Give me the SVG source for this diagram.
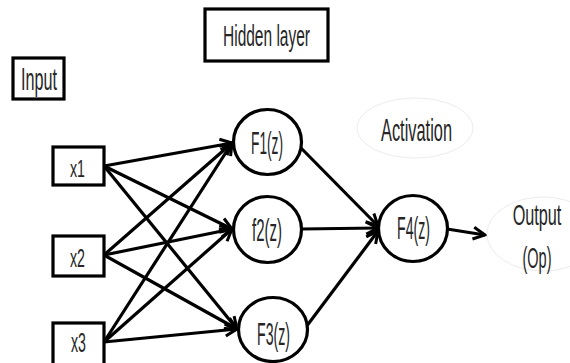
<svg xmlns="http://www.w3.org/2000/svg" width="570" height="363" viewBox="0 0 570 363">
  <style>
    .box { fill: #fff; stroke: #000; stroke-width: 3.2; }
    .unit { fill: #fff; stroke: #000; stroke-width: 3.2; }
    .halo { fill: none; stroke: #ececec; stroke-width: 1; }
    .lbl { font-family: "Liberation Sans", Arial, sans-serif; fill: #262626; }
    .edge { fill: none; stroke: #000; stroke-width: 3.2; marker-end: url(#arrow); }
  </style>
  <defs>
    <marker id="arrow" viewBox="0 0 14 14" refX="12" refY="7" markerWidth="15" markerHeight="15" markerUnits="userSpaceOnUse" orient="auto">
      <path d="M1,1.5 L12,7 L1,12.5" fill="none" stroke="#000" stroke-width="2.8" stroke-linejoin="miter"/>
    </marker>
  </defs>
  <rect width="570" height="363" fill="#fff"/>

  <!-- connectors -->
  <g id="connectors">
    <line class="edge" x1="104" y1="166" x2="232" y2="143"/>
    <line class="edge" x1="104" y1="166" x2="232" y2="229"/>
    <line class="edge" x1="104" y1="166" x2="237" y2="329"/>
    <line class="edge" x1="104" y1="255" x2="232" y2="143"/>
    <line class="edge" x1="104" y1="255" x2="232" y2="229"/>
    <line class="edge" x1="104" y1="255" x2="237" y2="329"/>
    <line class="edge" x1="104" y1="342" x2="232" y2="143"/>
    <line class="edge" x1="104" y1="342" x2="232" y2="229"/>
    <line class="edge" x1="104" y1="342" x2="237" y2="329"/>
    <line class="edge" x1="300" y1="147" x2="378" y2="226"/>
    <line class="edge" x1="301" y1="229" x2="378" y2="228"/>
    <line class="edge" x1="306" y1="327" x2="378" y2="231"/>
    <line class="edge" x1="447" y1="229" x2="485" y2="235"/>
  </g>

  <!-- layer captions -->
  <g id="input-caption">
    <rect class="box" x="13" y="58" width="51" height="41"/>
    <text class="lbl" x="21" y="90" font-size="31" textLength="36" lengthAdjust="spacingAndGlyphs">Input</text>
  </g>
  <g id="hidden-caption">
    <rect class="box" x="205" y="9" width="123" height="52"/>
    <text class="lbl" x="223" y="46" font-size="30" textLength="87" lengthAdjust="spacingAndGlyphs">Hidden layer</text>
  </g>
  <g id="activation-caption">
    <ellipse class="halo" cx="415" cy="128" rx="58" ry="30"/>
    <text class="lbl" x="381" y="141" font-size="32" textLength="71" lengthAdjust="spacingAndGlyphs">Activation</text>
  </g>
  <g id="output">
    <ellipse class="halo" cx="543" cy="234" rx="56" ry="37"/>
    <!-- condensed by a horizontal scale so the label stays inside the canvas -->
    <text class="lbl" font-size="29" text-anchor="middle" transform="translate(537,225) scale(0.56,1)">Output</text>
    <text class="lbl" font-size="29" text-anchor="middle" transform="translate(537,268) scale(0.5,1)">(Op)</text>
  </g>

  <!-- inputs -->
  <g id="x1">
    <rect class="box" x="53" y="147" width="51" height="38"/>
    <text class="lbl" x="70" y="177" font-size="24" textLength="15" lengthAdjust="spacingAndGlyphs">x1</text>
  </g>
  <g id="x2">
    <rect class="box" x="53" y="236" width="51" height="40"/>
    <text class="lbl" x="70" y="267" font-size="25" textLength="15" lengthAdjust="spacingAndGlyphs">x2</text>
  </g>
  <g id="x3">
    <rect class="box" x="53" y="323" width="51" height="46"/>
    <text class="lbl" x="71" y="352" font-size="27" textLength="15" lengthAdjust="spacingAndGlyphs">x3</text>
  </g>

  <!-- hidden units -->
  <g id="F1">
    <ellipse class="unit" cx="267.5" cy="142" rx="34" ry="32.5"/>
    <text class="lbl" x="251" y="154" font-size="32" textLength="32" lengthAdjust="spacingAndGlyphs">F1(z)</text>
  </g>
  <g id="f2">
    <ellipse class="unit" cx="267.5" cy="229.5" rx="34" ry="33"/>
    <text class="lbl" x="252" y="241" font-size="32" textLength="30" lengthAdjust="spacingAndGlyphs">f2(z)</text>
  </g>
  <g id="F3">
    <ellipse class="unit" cx="273" cy="329.5" rx="34.5" ry="32"/>
    <text class="lbl" x="257" y="345" font-size="32" textLength="33" lengthAdjust="spacingAndGlyphs">F3(z)</text>
  </g>

  <!-- output unit -->
  <g id="F4">
    <ellipse class="unit" cx="413" cy="228.5" rx="34.5" ry="33"/>
    <text class="lbl" x="397" y="239" font-size="32" textLength="33" lengthAdjust="spacingAndGlyphs">F4(z)</text>
  </g>
</svg>
